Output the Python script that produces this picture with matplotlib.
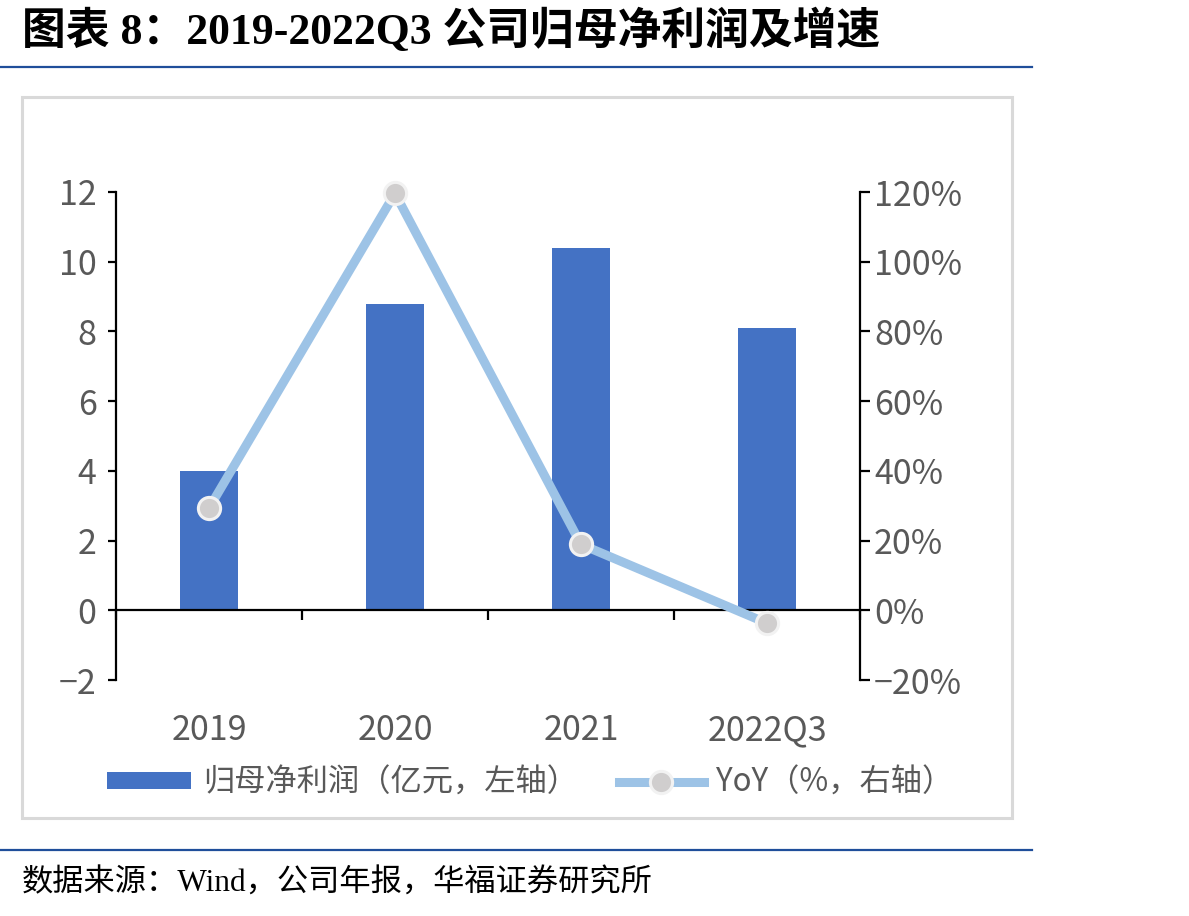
import matplotlib
matplotlib.use("Agg")
import matplotlib.pyplot as plt
from matplotlib.patches import Rectangle, Patch
from matplotlib.lines import Line2D
from matplotlib.ticker import FuncFormatter

plt.rcParams['font.family'] = ['Noto Sans CJK SC', 'DejaVu Sans']

categories = ["2019", "2020", "2021", "2022Q3"]
net_profit = [4.0, 8.8, 10.4, 8.1]        # 亿元
yoy = [29.3, 119.6, 18.9, -3.7]           # %
left_ticks = [-2, 0, 2, 4, 6, 8, 10, 12]
right_ticks = [-20, 0, 20, 40, 60, 80, 100, 120]

title = "图表 8：2019-2022Q3 公司归母净利润及增速"
source = "数据来源：Wind，公司年报，华福证券研究所"
bar_label = "归母净利润（亿元，左轴）"
line_label = "YoY（%，右轴）"

W, H = 1189, 916
fig = plt.figure(figsize=(W / 100, H / 100), dpi=100)

bar_color = "#4472C4"
line_color = "#9DC3E6"
tick_color = "#595959"
rule_color = "#1F4E9A"

# header / footer rules
fig.add_artist(Line2D([0, 1032 / W], [1 - 67 / H] * 2, color=rule_color, lw=1.6))
fig.add_artist(Line2D([0, 1032 / W], [1 - 850 / H] * 2, color=rule_color, lw=1.6))
# chart frame
fig.add_artist(Rectangle((22 / W, 1 - 818 / H), (1012 - 22) / W, (818 - 97) / H,
                         fill=False, edgecolor="#D9D9D9", lw=2.2))

fig.text(22 / W, 1 - 31 / H, title, fontsize=31.5, fontweight="bold",
         family=['Liberation Serif', 'Noto Sans CJK SC'], va="center", ha="left")
fig.text(22 / W, 1 - 884 / H, source, fontsize=22.5,
         family=['Liberation Serif', 'Noto Sans CJK SC'], va="center", ha="left")

ax = fig.add_axes([116 / W, 1 - 680 / H, (860 - 116) / W, (680 - 192) / H])
x = list(range(len(categories)))
ax.bar(x, net_profit, width=0.31, color=bar_color, zorder=2)
ax.set_xlim(-0.5, len(categories) - 0.5)
ax.set_ylim(-2, 12)
ax.set_yticks(left_ticks)
ax.set_yticklabels([str(v).replace("-", "\u2212") for v in left_ticks])

for s in ["top", "right"]:
    ax.spines[s].set_visible(False)
ax.spines["bottom"].set_position(("data", 0))
for s in ["left", "bottom"]:
    ax.spines[s].set_linewidth(1.6)
    ax.spines[s].set_color("black")

ax.tick_params(axis="y", direction="out", length=6, width=1.6, pad=8,
               labelsize=24.5, labelcolor=tick_color)
ax.set_xticks(x)
ax.set_xticklabels(categories)
ax.tick_params(axis="x", which="major", length=0, pad=74,
               labelsize=24.5, labelcolor=tick_color)
ax.set_xticks([i - 0.5 for i in range(len(categories) + 1)], minor=True)
ax.tick_params(axis="x", which="minor", direction="out", length=7, width=1.6)

ax2 = ax.twinx()
ax2.set_ylim(-20, 120)
ax2.set_yticks(right_ticks)
ax2.yaxis.set_major_formatter(
    FuncFormatter(lambda v, p: f"{v:.0f}%".replace("-", "\u2212")))
for s in ["top", "left", "bottom"]:
    ax2.spines[s].set_visible(False)
ax2.spines["right"].set_linewidth(1.6)
ax2.spines["right"].set_color("black")
ax2.tick_params(axis="y", direction="out", length=7, width=1.6, pad=3,
                labelsize=24.5, labelcolor=tick_color)
ax2.plot(x, yoy, color=line_color, lw=6.5, marker="o", markersize=16,
         markerfacecolor="#D0CECE", markeredgecolor="#F2F2F2",
         markeredgewidth=2.2, zorder=3, clip_on=False)

handles = [Patch(facecolor=bar_color, edgecolor="none"),
           Line2D([], [], color=line_color, lw=6.5, marker="o", markersize=16,
                  markerfacecolor="#D0CECE", markeredgecolor="#F2F2F2",
                  markeredgewidth=2.2)]
fig.legend(handles, [bar_label, line_label], loc="center",
           bbox_to_anchor=(530 / W, 1 - 783 / H), ncol=2, frameon=False,
           fontsize=22.5, handlelength=2.7, handleheight=0.45,
           columnspacing=1.3, handletextpad=0.4, labelcolor=tick_color)

fig.savefig("out.png", dpi=100)
